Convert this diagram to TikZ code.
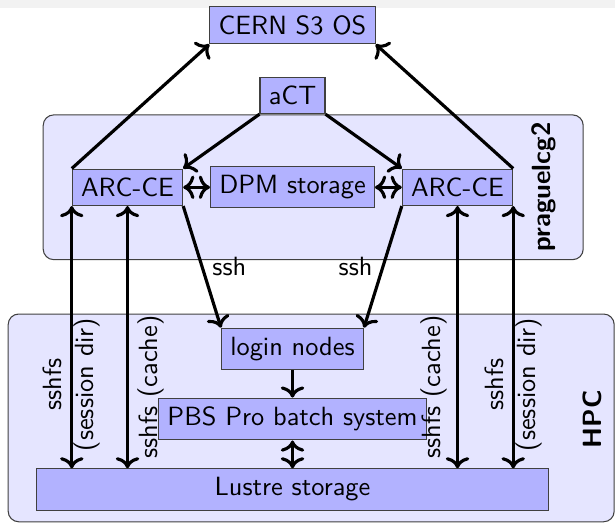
\documentclass[tikz,border=0pt]{standalone}
\usepackage{tikz}
\usetikzlibrary{arrows.meta}

\begin{document}
\begin{tikzpicture}[
      font=\sffamily,
      box/.style={rectangle, draw=black!75, fill=blue!30, align=center},
      group/.style={rectangle, draw=black!75, rounded corners, fill=blue!10},
      grouplabel/.style={rotate=90, font=\sffamily\bfseries},
      lbl/.style={sloped, align=center},
      arrow/.style={->, very thick},
      both/.style={<->, very thick}
    ]

    \useasboundingbox (0,0) rectangle (8.2,-6.973);
    \fill[black!5] (0,0) rectangle (8.2,-0.107);

    % sites
    \node[group, minimum width=7.2cm, minimum height=1.93cm] (prague) at (4.176,-2.497) {};
    \node[group, minimum width=8.08cm, minimum height=2.77cm] (hpc) at (4.149,-5.572) {};
    \node[grouplabel] (praguelabel) at (7.253,-2.493) {praguelcg2};
    \node[grouplabel] (hpclabel) at (7.893,-5.587) {HPC};

    \node[box] (s3) at (3.9,-0.337) {CERN S3 OS};
    \node[box] (act) at (3.9,-1.273) {aCT};
    \node[box] (arcl) at (1.7,-2.497) {ARC-CE};
    \node[box] (dpm) at (3.9,-2.497) {DPM storage};
    \node[box] (arcr) at (6.1,-2.497) {ARC-CE};
    \node[box] (login) at (3.9,-4.651) {login nodes};
    \node[box] (pbs) at (3.9,-5.587) {PBS Pro batch system};
    \node[box, minimum width=6.82cm] (lustre) at (3.9,-6.527) {Lustre storage};

    \draw[arrow] (arcl.north west) -- (s3.south west);
    \draw[arrow] (arcr.north east) -- (s3.south east);
    \draw[arrow] (act.south west) -- (arcl.north east);
    \draw[arrow] (act.south east) -- (arcr.north west);
    \draw[both] (arcl) -- (dpm);
    \draw[both] (dpm) -- (arcr);
    \draw[arrow] (arcl.south east) -- node[right] {ssh} (login.north west);
    \draw[arrow] (arcr.south west) -- node[left] {ssh} (login.north east);
    \draw[arrow] (login) -- (pbs);
    \draw[both] (pbs) -- (lustre);

    % sshfs mounts
    \draw[both] (arcl.south west |- lustre.north) -- node[lbl, pos=0.32] {sshfs\\(session dir)} (arcl.south west);
    \draw[both] (arcl.south |- lustre.north) -- node[lbl, below, pos=0.31] {sshfs (cache)} (arcl.south);
    \draw[both] (arcr.south |- lustre.north) -- node[lbl, above, pos=0.31] {sshfs (cache)} (arcr.south);
    \draw[both] (arcr.south east |- lustre.north) -- node[lbl, pos=0.32] {sshfs\\(session dir)} (arcr.south east);
  \end{tikzpicture}
\end{document}
